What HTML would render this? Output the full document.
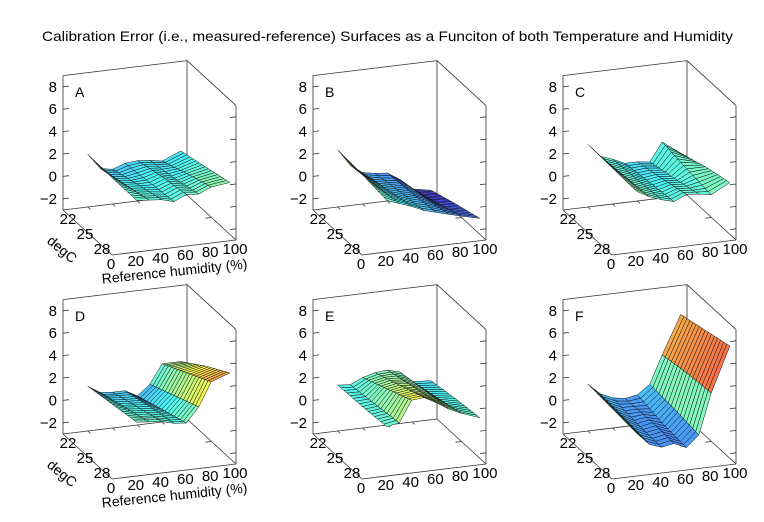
<!DOCTYPE html>
<html><head><meta charset="utf-8">
<style>
html,body{margin:0;padding:0;background:#fff;}
svg{display:block;font-family:"Liberation Sans",sans-serif;}
</style></head>
<body>
<svg id="chart" width="764" height="522" viewBox="0 0 764 522" xmlns="http://www.w3.org/2000/svg">
<rect width="764" height="522" fill="#fff"/>
<text x="42" y="41" font-size="14" textLength="691" lengthAdjust="spacingAndGlyphs">Calibration Error (i.e., measured-reference) Surfaces as a Funciton of both Temperature and Humidity</text>
</svg>
<script>
// ---- data ----
const humidity = [20, 30, 40, 50, 60, 70, 80, 95];
const temperature = [22, 25, 28];
const panelNames = ["A", "B", "C", "D", "E", "F"];
const zTicks = [-2, 0, 2, 4, 6, 8];
const hTicks = [0, 20, 40, 60, 80, 100];
const tTicks = [22, 25, 28];
const surfA = [[1.7,0.3,0.1,0.5,0.6,0.5,0.3,1.0],[1.6,0.9,0.8,0.8,1.2,0.9,1.2,1.6],[1.6,1.5,1.4,1.1,1.6,1.5,2.0,2.2]];
const surfB = [[2.1,0.6,-0.2,-0.4,-0.5,-1.2,-2.2,-2.5],[1.9,0.9,0.3,0.0,-0.3,-0.8,-1.4,-1.7],[1.6,1.2,0.8,0.3,0.0,-0.3,-0.6,-1.0]];
const surfC = [[2.6,1.4,1.0,0.5,0.5,0.35,2.0,0.8],[2.5,1.6,1.2,0.8,1.0,0.9,1.6,1.6],[2.4,1.8,1.4,1.1,1.6,1.5,1.3,2.2]];
const surfD = [[1.0,0.3,0.2,0.2,-0.4,0.5,2.2,2.2],[1.4,1.0,0.9,0.8,0.4,1.5,3.4,3.8],[1.8,1.7,1.6,1.3,1.2,2.5,4.6,5.2]];
const surfE = [[1.1,1.0,1.5,1.8,1.9,1.6,0.6,0.5],[1.2,1.3,2.5,2.7,2.5,2.0,1.2,0.9],[1.4,1.6,3.5,3.6,3.0,2.3,1.8,1.2]];
const surfF = [[1.2,0.2,-0.3,-0.5,-0.3,0.5,3.0,6.4],[1.0,0.0,-0.6,-0.4,-0.8,0.3,3.4,7.0],[0.8,-0.3,-0.7,-0.5,-1.0,0.0,3.6,7.6]];
const surfaces = [surfA, surfB, surfC, surfD, surfE, surfF];

// ---- geometry ----
const NS = "http://www.w3.org/2000/svg";
const svg = document.getElementById("chart");
const origins = [[63,210],[313,210],[563,210],[63,434],[313,434],[563,434]];
const HX = 124, HY = -15, TX = 49, TY = 45, ZS = 11.2, ZMIN = -3, ZMAX = 9;
const CLO = -3, CHI = 7.5;

function mk(tag, attrs, parent) {
  const e = document.createElementNS(NS, tag);
  for (const k in attrs) e.setAttribute(k, attrs[k]);
  (parent || svg).appendChild(e);
  return e;
}
function proj(o, h, t, z) {
  const hf = h / 100, tf = (t - 22) / 6;
  return [o[0] + HX * hf + TX * tf, o[1] + HY * hf + TY * tf - ZS * (z - ZMIN)];
}
function jet(v) {
  let f = (v - CLO) / (CHI - CLO); f = Math.max(0, Math.min(1, f));
  const c = x => Math.max(0, Math.min(1, 1.5 - Math.abs(4 * f - x)));
  const m = x => Math.round(255 * (0.68 * x + 0.32 * 0.9));
  return "rgb(" + m(c(3)) + "," + m(c(2)) + "," + m(c(1)) + ")";
}

panelNames.forEach((name, pi) => {
  const o = origins[pi];
  const g = mk("g", {});
  
  
  const L = (a, b, nm) => {
    const l = mk("line", {x1:a[0], y1:a[1], x2:b[0], y2:b[1], stroke:"#333", "stroke-width":"0.8"}, g);
    
    
  };
  L(proj(o,0,22,ZMIN), proj(o,0,22,ZMAX), 'z-axis-line');
  L(proj(o,0,22,ZMAX), proj(o,100,22,ZMAX), 'box-edge');
  L(proj(o,100,22,ZMIN), proj(o,100,22,ZMAX), 'box-edge');
  L(proj(o,100,22,ZMAX), proj(o,100,28,ZMAX), 'box-edge');
  L(proj(o,100,28,ZMIN), proj(o,100,28,ZMAX), 'box-edge');
  L(proj(o,0,22,ZMIN), proj(o,100,22,ZMIN), 'box-edge');
  L(proj(o,100,22,ZMIN), proj(o,100,28,ZMIN), 'box-edge');
  L(proj(o,0,28,ZMIN), proj(o,100,28,ZMIN), 'x-axis-line');
  L(proj(o,0,22,ZMIN), proj(o,0,28,ZMIN), 'y-axis-line');
  zTicks.forEach(z => {
    const p = proj(o,0,22,z);
    L(p, [p[0]+6, p[1]-0.7], 'z-tick');
    const q = proj(o,100,28,z);
    L(q, [q[0]-6, q[1]+0.7], 'z-tick');
    const tx = mk("text", {x:p[0]-6, y:p[1]+5, "font-size":"15", "text-anchor":"end"}, g);
    tx.textContent = z === -2 ? "\u22122" : String(z);
    
    
  });
  hTicks.forEach(h => {
    const p = proj(o,h,22,ZMIN);
    if (h > 0 && h < 100) L(p, [p[0]+2.5, p[1]+2.3], 'x-tick');
    const q = proj(o,h,28,ZMIN);
    const tx = mk("text", {x:q[0]-1, y:q[1]+14, "font-size":"15", "text-anchor":"middle"}, g);
    tx.textContent = String(h);
    
    
  });
  tTicks.forEach(t => {
    const q = proj(o,100,t,ZMIN);
    if (t > 22 && t < 28) L(q, [q[0]-6, q[1]+0.7], 'y-tick');
    const p = proj(o,0,t,ZMIN);
    const f = (t - 22) / 6;
    const tx = mk("text", {x:p[0]+5 - 15*f, y:p[1]+14 - 15*f, "font-size":"15", "text-anchor":"middle"}, g);
    tx.textContent = String(t);
    
    
  });
  const lab = mk("text", {x:o[0]+12, y:o[1]-113, "font-size":"14"}, g);
  lab.textContent = name;
  
  
  if (pi === 0 || pi === 3) {
    const d = mk("text", {x:0, y:0, "font-size":"14", "text-anchor":"middle", transform:"translate(" + (o[0]-4) + "," + (o[1]+43) + ") rotate(40)"}, g);
    d.textContent = "degC";
    
    
    const r = mk("text", {x:0, y:0, "font-size":"14", "text-anchor":"middle", transform:"translate(" + (o[0]+112) + "," + (o[1]+66) + ") rotate(-6)"}, g);
    r.textContent = "Reference humidity (%)";
    
    
  }
  const Z = surfaces[pi];
  const SUB = 8;
  const cells = [];
  for (let ti = 0; ti < temperature.length - 1; ti++) {
    for (let hi = 0; hi < humidity.length - 1; hi++) {
      for (let s = 0; s < SUB; s++) {
        const a = s / SUB, b = (s + 1) / SUB;
        const t0 = temperature[ti] + a * (temperature[ti+1] - temperature[ti]);
        const t1 = temperature[ti] + b * (temperature[ti+1] - temperature[ti]);
        const zl0 = Z[ti][hi] + a * (Z[ti+1][hi] - Z[ti][hi]);
        const zr0 = Z[ti][hi+1] + a * (Z[ti+1][hi+1] - Z[ti][hi+1]);
        const zl1 = Z[ti][hi] + b * (Z[ti+1][hi] - Z[ti][hi]);
        const zr1 = Z[ti][hi+1] + b * (Z[ti+1][hi+1] - Z[ti][hi+1]);
        const h0 = humidity[hi], h1 = humidity[hi+1];
        const depth = ((t0 + t1) / 2 - 22) / 6 - (h0 + h1) / 200;
        cells.push({depth, pts:[proj(o,h0,t0,zl0), proj(o,h1,t0,zr0), proj(o,h1,t1,zr1), proj(o,h0,t1,zl1)], z:(zl0+zr0+zl1+zr1)/4, slope:(zr0+zr1-zl0-zl1)/2});
      }
    }
  }
  cells.sort((p, q) => p.depth - q.depth);
  cells.forEach(c => {
    let col = jet(c.z);
    if (c.slope < -1.2) col = "#b7c86a";
    const poly = mk("polygon", {points:c.pts.map(p => p[0].toFixed(1) + "," + p[1].toFixed(1)).join(" "), fill:col, stroke:"#111", "stroke-width":"0.5"}, g);
    
    
  });
});
</script>
</body></html>
